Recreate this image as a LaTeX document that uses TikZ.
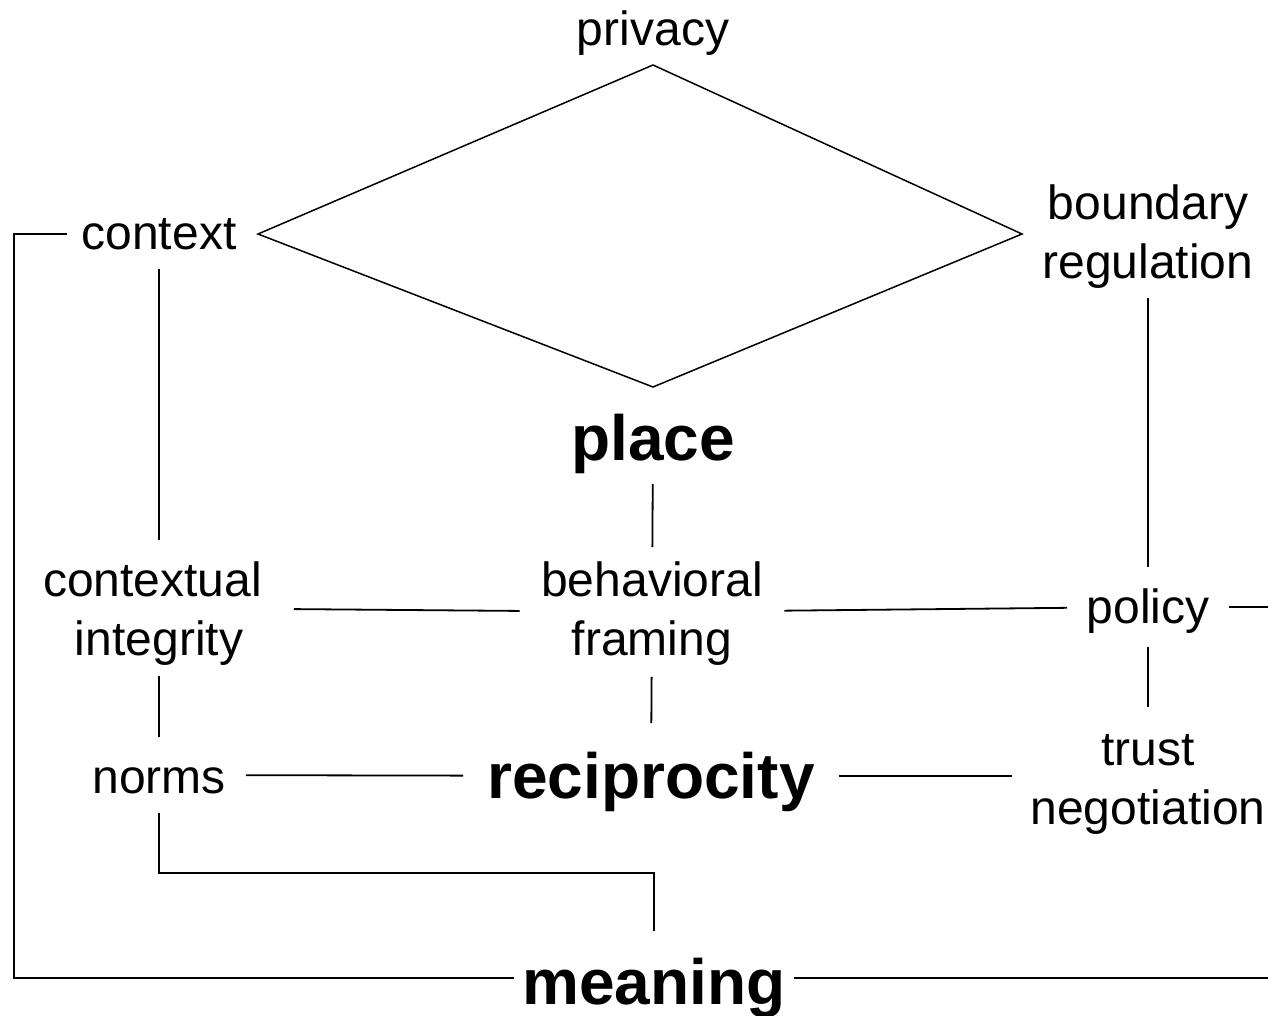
\documentclass[tikz,border=0pt]{standalone}
\usepackage{fontspec}
\setmainfont{Liberation Sans}
\usetikzlibrary{calc}
% lower the ink of a label, keeping its box
\newcommand{\dropby}[2]{\raisebox{-#1}[\height][\depth]{#2}}
\newcommand{\twolines}[2]{\begin{tabular}{@{}c@{}}#1\\#2\end{tabular}}
\begin{document}
\begin{tikzpicture}[x=1pt, y=-1pt, line width=1.8pt,
    term/.style={inner sep=0pt, align=center, font=\fontsize{48}{59}\selectfont},
    key/.style={inner sep=0pt, font=\fontsize{64}{74}\selectfont\bfseries}]
\useasboundingbox (0,0) rectangle (1268,1016);
% Diamond
\draw[line width=1.5pt] (653,65) -- (1022,234) -- (653,387) -- (258,234) -- cycle;
% Top row
\node[term] (privacy) at (653,30) {\dropby{3pt}{privacy}};
\node[term, minimum width=182pt, minimum height=68pt] (context) at (159,234) {context};
\node[term, minimum width=240pt, minimum height=126pt] (boundary) at (1148,234) {\dropby{3pt}{\twolines{boundary}{regulation}}};
\node[key, minimum width=180pt, minimum height=86pt] (place) at (653,440) {\dropby{4pt}{place}};
% Middle row
\node[term, minimum width=268pt, minimum height=135pt] (integrity) at (159,608) {\dropby{6.5pt}{\twolines{contextual\kern13pt}{integrity}}};
\node[term, minimum width=263pt, minimum height=128pt] (framing) at (652,612) {\dropby{2pt}{\twolines{behavioral}{framing}}};
\node[term, minimum width=160pt, minimum height=78pt] (policy) at (1148,607) {\dropby{4pt}{policy}};
% Lower row
\node[term, minimum width=172pt, minimum height=74pt] (norms) at (159,775) {\dropby{6pt}{norms}};
\node[key, minimum width=374pt, minimum height=104pt] (reciprocity) at (651,776) {\dropby{6pt}{reciprocity}};
\node[term, minimum width=270pt, minimum height=136pt] (trust) at (1148,776) {\dropby{7pt}{\twolines{trust}{negotiation}}};
\node[key, minimum width=278pt, minimum height=92pt, text height=46pt, text depth=0pt] (meaning) at (654,978) {\dropby{3pt}{meaning}};
\coordinate (redge) at (1268,0);
% Connectors
\draw (context) -- (integrity);
\draw (boundary) -- (boundary |- policy.north);
\draw (place) -- (framing);
\draw (integrity) -- (framing);
\draw (framing) -- (policy);
\draw (policy.east) -- (policy.east -| redge);
\draw (integrity) -- (norms);
\draw (framing) -- (reciprocity);
\draw (policy) -- (trust);
\draw (norms) -- (reciprocity);
\draw (reciprocity) -- (trust);
\draw (norms.south) -- ++(0,60) -| (meaning.north);
\draw (context.west) -- ++(-53,0) |- (meaning.west);
\draw (meaning.east) -- (meaning.east -| redge);
\end{tikzpicture}
\end{document}
